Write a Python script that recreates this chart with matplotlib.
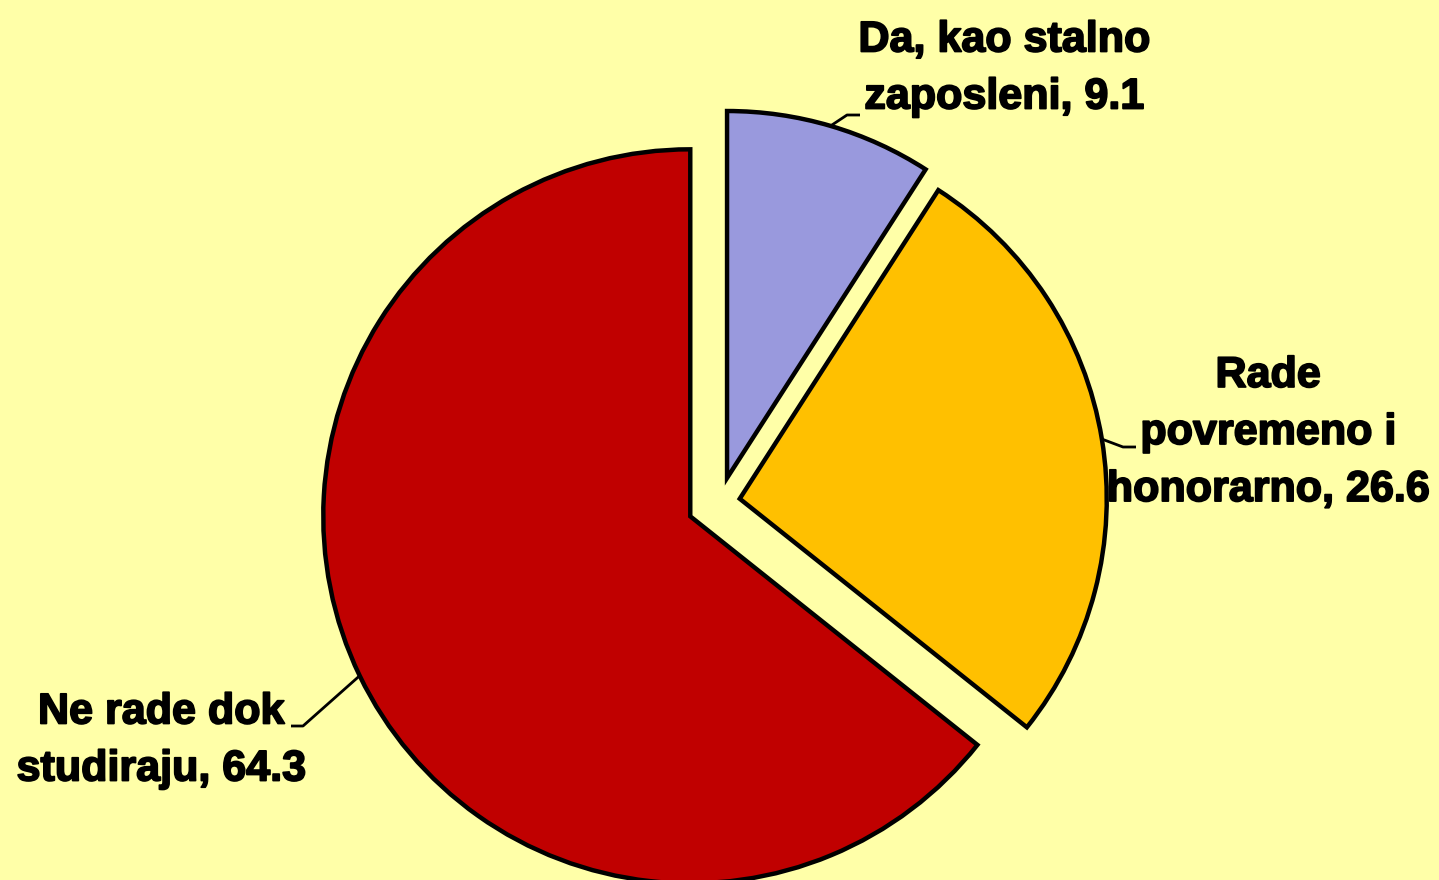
import matplotlib.pyplot as plt
import matplotlib.patheffects as pe
import numpy as np

categories = ['Da, kao stalno\nzaposleni', 'Rade\npovremeno i\nhonorarno', 'Ne rade dok\nstudiraju']
values = [9.1, 26.6, 64.3]
colors = ['#9999DD', '#FFC000', '#C00000']

BG = '#FFFFA8'
W, H = 1439, 880

# label centres and leader elbows, in pixel coords (y down)
label_pos = [(1004, 69), (1268, 433), (161, 741)]
elbows = [((847, 115), (860, 115)), ((1123, 447), (1136, 447)), ((303, 726), (291, 726))]
explode = [25, 20, 33]

fig = plt.figure(figsize=(W / 100, H / 100), dpi=100)
fig.patch.set_facecolor(BG)
ax = fig.add_axes([0, 0, 1, 1])
ax.set_facecolor(BG)

R = 367
wedges, _ = ax.pie(values, colors=colors, startangle=90, counterclock=False,
                   explode=explode, radius=R, center=(720, H - 502),
                   wedgeprops=dict(edgecolor='black', linewidth=3.2))

for w, cat, v, (lx, ly), (e1, e2) in zip(wedges, categories, values, label_pos, elbows):
    tm = np.deg2rad((w.theta1 + w.theta2) / 2)
    cx, cy = w.center
    sx, sy = cx + w.r * np.cos(tm), cy + w.r * np.sin(tm)
    ax.plot([sx, e1[0], e2[0]], [sy, H - e1[1], H - e2[1]], color='black', lw=2,
            solid_capstyle='butt', zorder=5)
    ax.text(lx, H - ly, f'{cat}, {v}', ha='center', va='center', fontsize=31,
            fontweight='bold', family=['Liberation Sans', 'DejaVu Sans'],
            linespacing=1.55, color='black',
            path_effects=[pe.withStroke(linewidth=1.3, foreground='black')])

ax.set_xlim(0, W)
ax.set_ylim(0, H)
ax.set_aspect('equal')
ax.axis('off')

fig.savefig('out.png', dpi=100, facecolor=BG)
